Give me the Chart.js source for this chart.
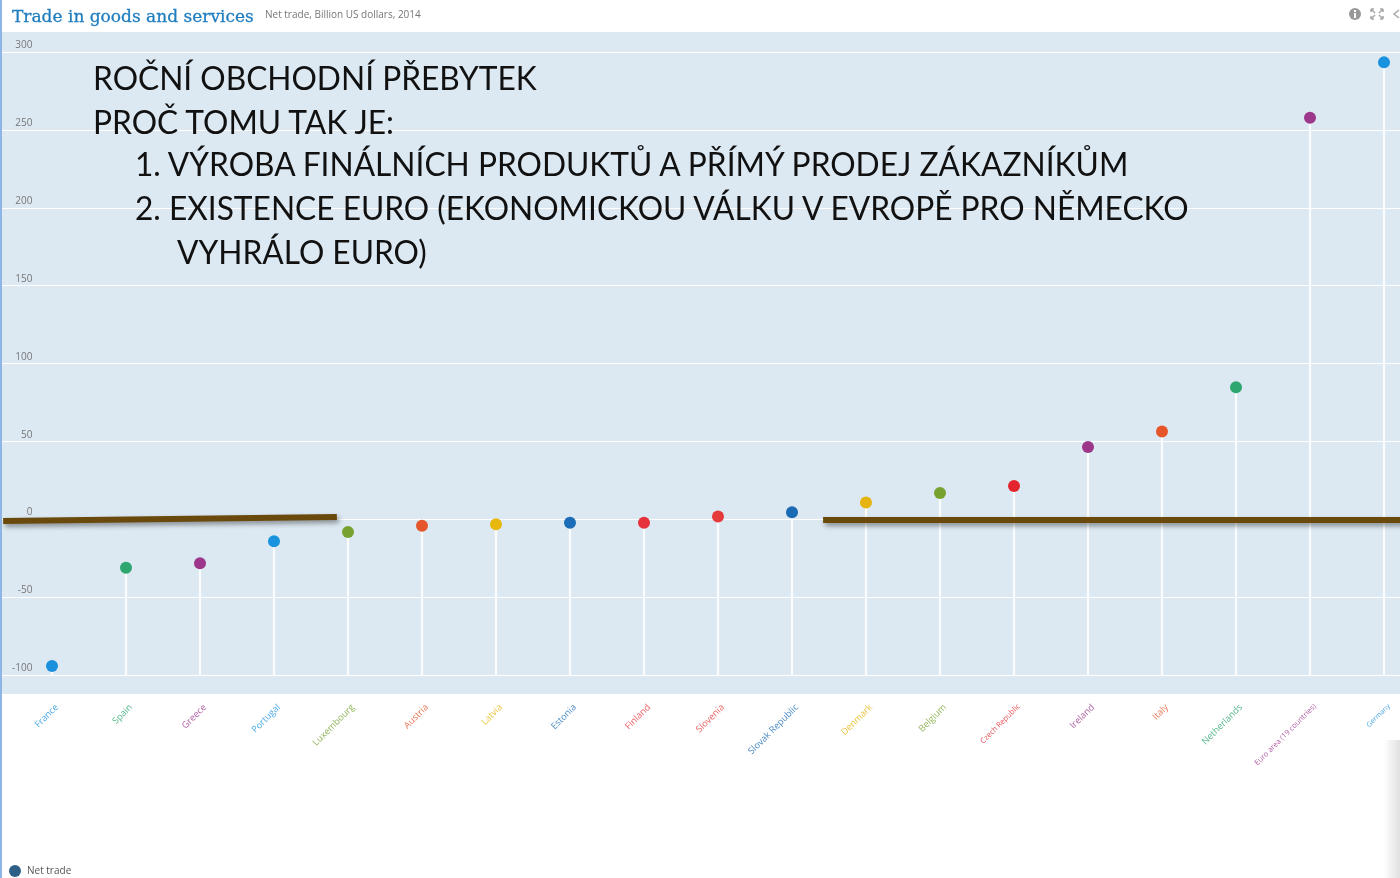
<!DOCTYPE html>
<html>
<head>
<meta charset="utf-8">
<script src="https://cdn.jsdelivr.net/npm/chart.js@4/dist/chart.umd.min.js"></script>
<style>
  html, body { margin: 0; padding: 0; background: #fff; overflow: hidden; }
  body { width: 1400px; height: 878px; position: relative; }
  #leftBorder { position: absolute; left: 0; top: 0; width: 2px; height: 878px; background: #8fb5e4; z-index: 5; }
  #chartWrap { position: absolute; left: 2px; top: 0; }
  #title { position: absolute; left: 12px; top: 6px; font-family: "DejaVu Serif"; font-size: 17px; color: #1f7dbf; white-space: nowrap; -webkit-text-stroke: 0.3px #1f7dbf; }
  #subtitle { position: absolute; left: 265px; top: 7px; font-family: "Open Sans"; font-size: 10px; color: #777; white-space: nowrap; }
  #icons { position: absolute; left: 1348px; top: 7px; }
  #legend { position: absolute; left: 9px; top: 863px; font-family: "Open Sans"; font-size: 10px; color: #555; }
  #legend span.dot { display: inline-block; width: 12px; height: 12px; border-radius: 6px; background: #2d5f87; vertical-align: middle; margin-right: 6px; }
  #notes { position: absolute; left: 0; top: 0; font-family: "Lato"; font-size: 33px; color: #111; white-space: nowrap; }
  #notes div { position: absolute; transform: scaleX(0.96); transform-origin: 0 0; }
  #shade { position: absolute; left: 1384px; top: 740px; width: 16px; height: 138px; background: linear-gradient(to right, rgba(0,0,0,0), rgba(0,0,0,0.12)); }
</style>
</head>
<body>
<div id="leftBorder"></div>
<div id="chartWrap"><canvas id="tradeChart" width="1425" height="878"></canvas></div>
<div id="title">Trade in goods and services</div>
<div id="subtitle">Net trade, Billion US dollars, 2014</div>
<div id="icons">
  <svg width="52" height="14" viewBox="0 0 52 14">
    <circle cx="7" cy="7" r="6" fill="#999"/>
    <rect x="6" y="6" width="2" height="5" fill="#fff"/>
    <rect x="6" y="3" width="2" height="2" fill="#fff"/>
    <g stroke="#aaa" stroke-width="1.6" fill="none">
      <path d="M23 2 L27 6 M23 2 h3 M23 2 v3"/>
      <path d="M35 2 L31 6 M35 2 h-3 M35 2 v3"/>
      <path d="M23 12 L27 8 M23 12 h3 M23 12 v-3"/>
      <path d="M35 12 L31 8 M35 12 h-3 M35 12 v-3"/>
      <path d="M51 3 L46 7 L51 11"/>
    </g>
  </svg>
</div>
<div id="notes">
  <div style="left:93px; top:57px;">ROČNÍ OBCHODNÍ PŘEBYTEK</div>
  <div style="left:93px; top:101px;">PROČ TOMU TAK JE:</div>
  <div style="left:135px; top:143px;">1. VÝROBA FINÁLNÍCH PRODUKTŮ A PŘÍMÝ PRODEJ ZÁKAZNÍKŮM</div>
  <div style="left:135px; top:187px;">2. EXISTENCE EURO (EKONOMICKOU VÁLKU V EVROPĚ PRO NĚMECKO</div>
  <div style="left:177px; top:231px;">VYHRÁLO EURO)</div>
</div>
<div id="shade"></div>
<div id="legend"><span class="dot"></span>Net trade</div>

<script>
// Countries in the order they are plotted
var countries = ["France", "Spain", "Greece", "Portugal", "Luxembourg", "Austria", "Latvia", "Estonia",
    "Finland", "Slovenia", "Slovak Republic", "Denmark", "Belgium", "Czech Republic", "Ireland", "Italy",
    "Netherlands", "Euro area (19 countries)", "Germany"];

// Net trade, billion US dollars, 2014
var netTrade = [-94, -31, -28, -14, -8, -4, -3, -2, -2, 2, 4.7, 11, 17, 21.5, 46.5, 56.5, 85, 258, 293.5];

// One colour per country
var pointColors = ["#1b90dd", "#2ea66f", "#9c378c", "#1a93de", "#77a22f", "#e5562b", "#e8b80f", "#1a6db6",
    "#e6323c", "#e63b3b", "#1a6ab4", "#e6b40f", "#78a22f", "#e3262e", "#9c378c", "#e6552a",
    "#2ea66f", "#9c378c", "#1a93de"];

// Y axis tick labels
var yTicks = [-100, -50, 0, 50, 100, 150, 200, 250, 300];

// Hand-drawn brown lines laid over the chart (category index, value)
var markerLines = [
    [[-0.66, -1], [3.85, 1.6]],
    [[10.42, -0.3], [18.6, -0.3]]
];

var axisMin = -112;
var axisMax = 313;
var stemBase = -100;

// a few labels are drawn smaller in the original
var smallLabels = { "Czech Republic": 7.5, "Euro area (19 countries)": 7.5, "Germany": 7 };

function fade(hex, a) {
    var n = parseInt(hex.slice(1), 16);
    return "rgba(" + (n >> 16) + "," + ((n >> 8) & 255) + "," + (n & 255) + "," + a + ")";
}

// Light blue plot background across the whole width
var plotBackground = {
    id: "plotBackground",
    beforeDraw: function (chart) {
        var c = chart.ctx, a = chart.chartArea;
        c.save();
        c.fillStyle = "#dde9f2";
        c.fillRect(0, a.top, chart.width, a.bottom - a.top);
        c.restore();
    }
};

// Brown marker lines with a soft shadow
var markerPlugin = {
    id: "markerPlugin",
    afterDraw: function (chart) {
        var c = chart.ctx, x = chart.scales.x, y = chart.scales.y;
        c.save();
        c.strokeStyle = "#6a4a0c";
        c.lineWidth = 6;
        c.shadowColor = "rgba(0,0,0,0.4)";
        c.shadowBlur = 5;
        c.shadowOffsetX = 2;
        c.shadowOffsetY = 3;
        markerLines.forEach(function (seg) {
            c.beginPath();
            c.moveTo(x.getPixelForValue(seg[0][0]), y.getPixelForValue(seg[0][1]));
            c.lineTo(x.getPixelForValue(seg[1][0]), y.getPixelForValue(seg[1][1]));
            c.stroke();
        });
        c.restore();
    }
};

var ctx = document.getElementById("tradeChart").getContext("2d");
var chart = new Chart(ctx, {
    type: "bar",
    data: {
        labels: countries,
        datasets: [{
            type: "line",
            label: "Net trade",
            data: netTrade,
            showLine: false,
            pointRadius: 6,
            pointHoverRadius: 6,
            pointBorderWidth: 0,
            pointBackgroundColor: pointColors,
            order: 0
        }, {
            type: "bar",
            label: "stems",
            data: netTrade.map(function (v) { return [stemBase, v]; }),
            backgroundColor: "rgba(255,255,255,0.85)",
            barThickness: 1.5,
            order: 1
        }]
    },
    options: {
        responsive: false,
        animation: false,
        layout: { padding: { top: 32, left: 0, right: 0, bottom: 0 } },
        plugins: {
            legend: { display: false },
            tooltip: { enabled: false }
        },
        scales: {
            x: {
                offset: true,
                grid: { display: false, drawTicks: false },
                border: { display: false },
                afterFit: function (scale) { scale.height = 184; },
                ticks: {
                    minRotation: 45,
                    maxRotation: 45,
                    autoSkip: false,
                    padding: 8,
                    labelOffset: 5,
                    font: function (c) {
                        var name = countries[c.index];
                        return { family: "Open Sans", size: smallLabels[name] || 9.2 };
                    },
                    color: pointColors.map(function (col) { return fade(col, 0.8); })
                }
            },
            y: {
                min: axisMin,
                max: axisMax,
                afterBuildTicks: function (scale) {
                    scale.ticks = yTicks.map(function (v) { return { value: v }; });
                },
                afterFit: function (scale) { scale.width = 13; },
                grid: { color: "#ffffff", lineWidth: 1, tickLength: 13 },
                border: { display: false },
                ticks: {
                    mirror: true,
                    crossAlign: "far",
                    padding: -3,
                    labelOffset: -7,
                    font: { family: "Open Sans", size: 10 },
                    color: "#777"
                }
            }
        }
    },
    plugins: [plotBackground, markerPlugin]
});
</script>
</body>
</html>
